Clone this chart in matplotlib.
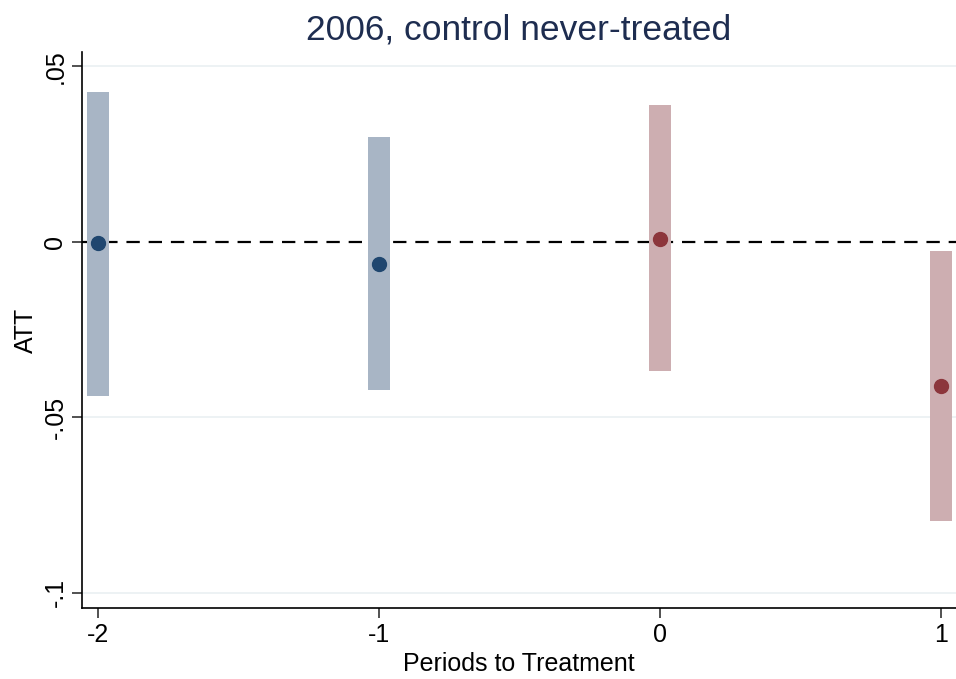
import numpy as np
import matplotlib
matplotlib.use('Agg')
from matplotlib import pyplot as plt

periods = [-2, -1, 0, 1]
att = [-0.0003, -0.0063, 0.0009, -0.0410]
ci_low = [-0.0439, -0.0422, -0.0368, -0.0795]
ci_high = [0.0427, 0.0299, 0.0390, -0.0026]
pre_post = ['pre', 'pre', 'post', 'post']

yticks = [-0.1, -0.05, 0, 0.05]
ytick_labels = ['-.1', '-.05', '0', '.05']

point_col = {'pre': '#1f466f', 'post': '#8c363c'}
bar_col = {'pre': '#a8b5c5', 'post': '#cdaeb1'}

plt.rcParams['font.family'] = ['Liberation Sans', 'DejaVu Sans']

fig = plt.figure(figsize=(9.56, 6.79), dpi=100, facecolor='w')
ax = fig.add_axes([82 / 956, 1 - 608 / 679, 874 / 956, (608 - 52) / 679])

for g in [-0.1, -0.05, 0.05]:
    ax.axhline(g, color='#eaf0f2', lw=1.2, zorder=0)
ax.axhline(0, color='black', lw=1.6, ls=(0, (6, 4)), zorder=1)

for p, a, lo, hi, k in zip(periods, att, ci_low, ci_high, pre_post):
    ax.bar(p, hi - lo, bottom=lo, width=0.078, color=bar_col[k], zorder=2)
    ax.plot(p, a, 'o', ms=10, color=point_col[k], zorder=3)

ax.set_xlim(-2.057, 1.053)
ax.set_ylim(-0.1043, 0.0541)
ax.set_yticks(yticks)
ax.set_yticklabels(ytick_labels, rotation=90, va='center')
ax.set_xticks(periods)
ax.set_xticklabels([str(p) for p in periods])
ax.tick_params(labelsize=18, length=7, width=1.2, color='#333333')
ax.spines['top'].set_visible(False)
ax.spines['right'].set_visible(False)
ax.spines['left'].set_linewidth(1.2)
ax.spines['bottom'].set_linewidth(1.2)
ax.set_xlabel('Periods to Treatment', fontsize=18, labelpad=4)
ax.set_ylabel('ATT', fontsize=18, labelpad=4)
ax.set_title('2006, control never-treated', fontsize=25.5, color='#1e2d50', pad=9)

plt.savefig('out.png', dpi=100, facecolor='w')
